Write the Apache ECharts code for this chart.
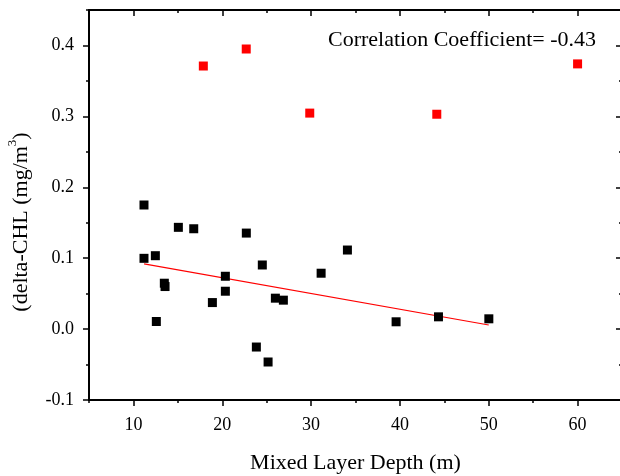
<!DOCTYPE html>
<html>
<head>
<meta charset="utf-8">
<script src="https://cdn.jsdelivr.net/npm/echarts@6/dist/echarts.min.js"></script>
<style>html,body{margin:0;padding:0;background:#fff}#c{width:620px;height:476px}</style>
</head>
<body>
<div id="c"></div>
<script>
const blackPoints = [
  [11.19, 0.175], [15.06, 0.1435], [16.79, 0.1415], [22.71, 0.1354],
  [11.19, 0.0998], [12.47, 0.1035], [13.48, 0.0647], [13.56, 0.060],
  [12.58, 0.0107], [18.89, 0.0374], [20.35, 0.0745], [20.35, 0.0534],
  [24.51, 0.0904], [23.84, -0.0253], [25.16, -0.0464], [25.98, 0.0436],
  [26.88, 0.0408], [31.13, 0.0788], [34.09, 0.1115], [39.57, 0.0103],
  [44.34, 0.0173], [50.01, 0.0145]
];
const redPoints = [
  [17.87, 0.371], [22.7, 0.395], [29.85, 0.3046], [44.15, 0.303], [60.0, 0.374]
];
const fitLine = [[11.2, 0.0920], [50.0, 0.0058]];
const xMajor = [10, 20, 30, 40, 50, 60];
const xMinor = [5, 15, 25, 35, 45, 55, 65];
const yMajor = [-0.1, 0, 0.1, 0.2, 0.3, 0.4];
const yMinor = [-0.05, 0.05, 0.15, 0.25, 0.35, 0.45];
const xTitle = 'Mixed Layer Depth (m)';
const annotation = 'Correlation Coefficient= -0.43';

const FF = '"Liberation Serif", "Times New Roman", serif';
const lineSt = {color: '#000', width: 2};
const tickSt = {color: '#000', width: 1.5};

function axis(kind, pos, values, len, inside, main) {
  const a = {
    type: 'value',
    position: pos,
    min: kind === 'x' ? 5 : -0.1,
    max: kind === 'x' ? 65 : 0.45,
    splitLine: {show: false},
    axisLine: {show: main !== false, onZero: false, lineStyle: lineSt},
    axisTick: {show: true, customValues: values, length: len, inside: inside, lineStyle: tickSt},
    axisLabel: {show: false}
  };
  return a;
}

const xb = axis('x', 'bottom', xMajor, 6, false);
xb.axisLabel = {show: true, customValues: xMajor, fontFamily: FF, fontSize: 18, color: '#000', margin: 16};
xb.name = xTitle;
xb.nameLocation = 'middle';
xb.nameGap = 52;
xb.nameTextStyle = {fontFamily: FF, fontSize: 22, color: '#000'};

const yl = axis('y', 'left', yMajor, 6, false);
yl.axisLabel = {show: true, customValues: yMajor, fontFamily: FF, fontSize: 18, color: '#000', margin: 15,
  formatter: v => Number(v).toFixed(1)};

const option = {
  animation: false,
  grid: {left: 89, top: 10, width: 533, height: 390, containLabel: false, outerBoundsMode: 'none'},
  xAxis: [
    xb,
    axis('x', 'bottom', xMinor, 3, false, false),
    axis('x', 'top', xMajor, 6, true),
    axis('x', 'top', xMinor, 3, true, false)
  ],
  yAxis: [
    yl,
    axis('y', 'left', yMinor, 3, false, false),
    axis('y', 'right', yMajor, 6, true),
    axis('y', 'right', yMinor, 3, true, false)
  ],
  graphic: [
    {type: 'text', x: 462, y: 40, style: {text: annotation, fontFamily: FF, fontSize: 22, fill: '#000', align: 'center', verticalAlign: 'middle'}},
    {type: 'text', x: 19, y: 222, rotation: Math.PI / 2,
     style: {text: '{a|(delta-CHL (mg/m}{s|3}{a|)}', align: 'center', verticalAlign: 'middle', fill: '#000',
       rich: {a: {fontFamily: FF, fontSize: 22, lineHeight: 26, fill: '#000', verticalAlign: 'bottom'},
              s: {fontFamily: FF, fontSize: 13, lineHeight: 13, fill: '#000', verticalAlign: 'top'}}}}
  ],
  series: [
    {type: 'line', data: fitLine, showSymbol: false, symbol: 'none', lineStyle: {color: '#ff0000', width: 1.2}, z: 2},
    {type: 'scatter', data: blackPoints, symbol: 'rect', symbolSize: 9, itemStyle: {color: '#000', opacity: 1}, z: 3},
    {type: 'scatter', data: redPoints, symbol: 'rect', symbolSize: 9, itemStyle: {color: '#ff0000', opacity: 1}, z: 3}
  ]
};
const chart = echarts.init(document.getElementById('c'), null, {renderer: 'canvas'});
chart.setOption(option);
</script>
</body>
</html>
